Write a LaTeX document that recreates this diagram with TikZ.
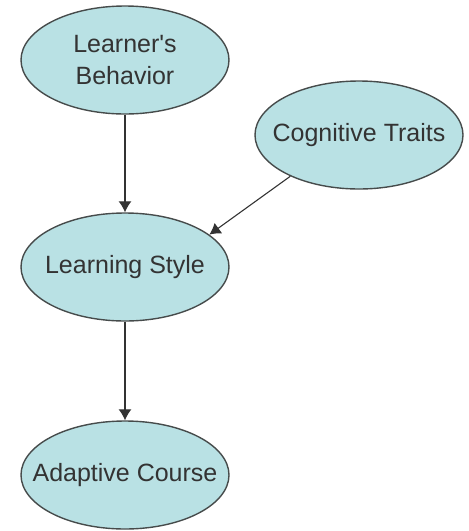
\documentclass[tikz,border=0pt]{standalone}
\usepackage{fontspec}
\setmainfont{Liberation Sans}
\usetikzlibrary{shapes.geometric,arrows.meta}

\definecolor{blobfill}{RGB}{185,225,228}
\definecolor{blobline}{RGB}{70,75,75}
\newcommand{\nw}[1]{\makebox[0pt]{#1}} % zero-width line, the ellipse keeps its own size

\tikzset{
  blob/.style={ellipse, draw=blobline, fill=blobfill, line width=0.7pt,
    minimum width=104pt, minimum height=54pt, inner sep=0pt, align=center,
    text=black!80, font=\fontsize{12.5}{16}\selectfont},
  link/.style={-{Latex[length=5.5pt,width=6.5pt]}, draw=black!80, line width=0.55pt}
}

\begin{document}
\begin{tikzpicture}[x=0.5pt,y=-0.5pt]
    \useasboundingbox (0,0) rectangle (468,531);
    \node[blob] (beh) at (125,60) {\nw{Learner\textquotesingle s}\\\nw{Behavior}}; % input
    \node[blob] (cog) at (359,135) {\nw{Cognitive Traits}}; % input
    \node[blob] (sty) at (125,267) {\nw{Learning Style}};
    \node[blob] (crs) at (125,475) {\nw{Adaptive Course}}; % output
    \draw[link] (beh) -- (sty);
    \draw[link] (cog.211) -- (sty.21);
    \draw[link] (sty) -- (crs);
\end{tikzpicture}
\end{document}
